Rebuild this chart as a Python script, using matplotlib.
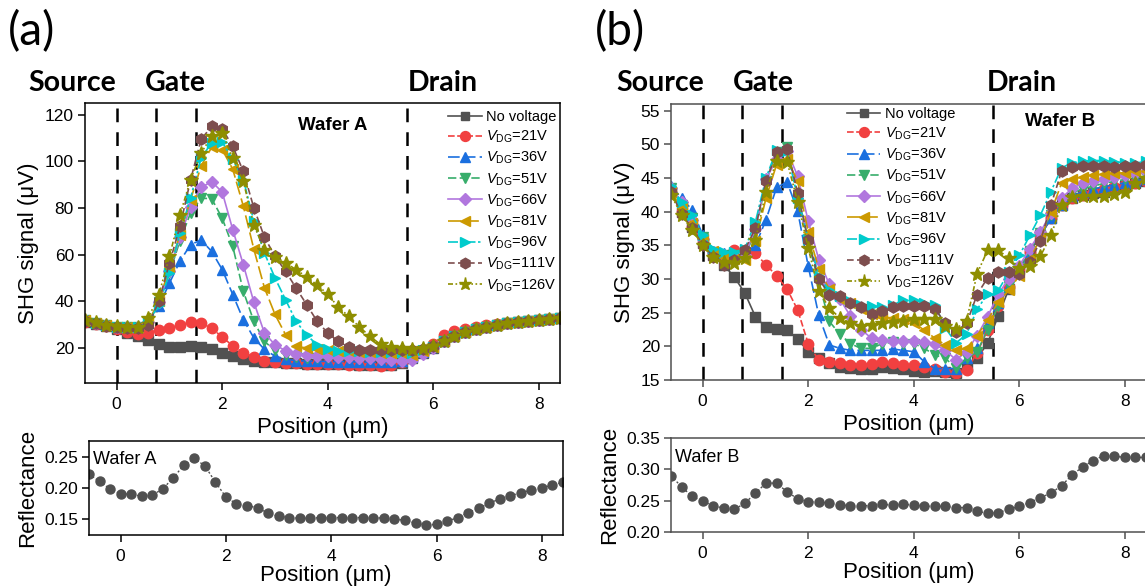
import matplotlib
matplotlib.use("Agg")
import matplotlib.pyplot as plt
from matplotlib.ticker import FormatStrFormatter

plt.rcParams['font.family'] = ['Liberation Sans', 'DejaVu Sans']
plt.rcParams['mathtext.fontset'] = 'custom'
plt.rcParams['mathtext.rm'] = 'Liberation Sans'
plt.rcParams['mathtext.it'] = 'Liberation Sans:italic'
plt.rcParams['mathtext.bf'] = 'Liberation Sans:bold'

# ---------------- data ----------------
position = [-0.6, -0.4, -0.2, 0.0, 0.2, 0.4, 0.6, 0.8, 1.0, 1.2, 1.4, 1.6, 1.8, 2.0,
            2.2, 2.4, 2.6, 2.8, 3.0, 3.2, 3.4, 3.6, 3.8, 4.0, 4.2, 4.4, 4.6, 4.8,
            5.0, 5.2, 5.4, 5.6, 5.8, 6.0, 6.2, 6.4, 6.6, 6.8, 7.0, 7.2, 7.4, 7.6,
            7.8, 8.0, 8.2, 8.4]

series_labels = ["No voltage",
                 r"$V_{\mathrm{DG}}$=21V", r"$V_{\mathrm{DG}}$=36V", r"$V_{\mathrm{DG}}$=51V",
                 r"$V_{\mathrm{DG}}$=66V", r"$V_{\mathrm{DG}}$=81V", r"$V_{\mathrm{DG}}$=96V",
                 r"$V_{\mathrm{DG}}$=111V", r"$V_{\mathrm{DG}}$=126V"]

# region boundaries (source | gate | drain)
boundaries = [0.0, 0.75, 1.5, 5.5]

# Wafer A SHG signal (uV)
a_none = [31.0, 30.2, 29.3, 28.0, 26.5, 25.0, 23.6, 21.5, 20.4, 20.4, 20.8, 20.4, 19.4, 17.9,
          16.7, 15.4, 14.6, 14.2, 14.0, 13.6, 13.4, 13.3, 13.2, 13.1, 13.0, 13.0, 12.9, 12.8,
          12.6, 12.7, 13.6, 15.8, 17.8, 20.0, 22.8, 25.0, 26.8, 28.0, 29.0, 29.8, 30.5, 31.0,
          31.5, 31.9, 32.3, 32.7]
a_21 = [31.2, 30.3, 29.4, 28.2, 26.8, 26.2, 26.6, 27.8, 28.6, 30.0, 31.0, 30.6, 28.6, 24.6,
        21.0, 17.9, 16.3, 14.5, 13.9, 13.5, 13.4, 13.3, 13.2, 13.1, 13.0, 12.9, 12.7, 12.6,
        12.4, 12.5, 13.8, 16.5, 18.6, 21.5, 25.5, 27.3, 28.2, 29.0, 29.7, 30.3, 30.8, 31.3,
        31.7, 32.1, 32.5, 32.9]
a_36 = [31.8, 30.8, 29.8, 29.2, 28.8, 28.9, 30.5, 38.0, 47.8, 57.2, 64.3, 66.3, 61.4, 53.6,
        42.9, 32.1, 24.3, 19.4, 16.5, 15.2, 14.6, 14.4, 14.3, 14.2, 14.2, 14.1, 14.0, 13.9,
        13.8, 13.9, 14.5, 16.2, 18.2, 20.4, 22.8, 25.0, 26.8, 28.0, 29.0, 29.8, 30.5, 31.0,
        31.5, 31.9, 32.3, 32.7]
a_51 = [31.8, 30.8, 29.8, 29.2, 28.8, 28.9, 31.0, 39.5, 52.0, 66.0, 77.9, 84.2, 84.0, 75.6,
        63.5, 44.3, 31.4, 22.8, 19.0, 17.2, 16.3, 15.9, 15.7, 15.6, 15.5, 15.5, 15.4, 15.3,
        15.2, 15.2, 15.4, 16.5, 18.3, 20.4, 22.8, 25.0, 26.8, 28.0, 29.0, 29.8, 30.5, 31.0,
        31.5, 31.9, 32.3, 32.7]
a_66 = [31.8, 30.8, 29.8, 29.2, 28.8, 28.9, 31.0, 39.8, 53.0, 67.5, 80.5, 88.8, 91.3, 86.8,
        70.7, 55.7, 39.6, 26.4, 21.4, 18.8, 17.6, 17.0, 16.6, 16.4, 16.2, 16.0, 15.8, 15.5,
        15.2, 14.8, 14.5, 15.0, 17.6, 20.2, 22.8, 25.0, 26.8, 28.0, 29.0, 29.8, 30.5, 31.0,
        31.5, 31.9, 32.3, 32.7]
a_81 = [31.8, 30.8, 29.8, 29.2, 28.8, 28.9, 31.2, 40.0, 54.5, 68.6, 83.5, 98.0, 106.0, 105.0,
        96.6, 80.8, 62.3, 45.8, 34.4, 25.7, 20.7, 20.0, 19.4, 19.0, 18.8, 18.6, 18.4, 18.2,
        18.0, 17.9, 17.8, 17.2, 18.5, 20.4, 22.8, 25.0, 26.8, 28.0, 29.0, 29.8, 30.5, 31.0,
        31.5, 31.9, 32.3, 32.7]
a_96 = [31.8, 30.8, 29.8, 29.2, 28.8, 28.9, 31.0, 38.6, 52.0, 69.3, 84.3, 101.4, 108.0, 108.2,
        100.8, 92.2, 74.3, 60.7, 50.0, 40.7, 31.4, 25.5, 21.4, 19.5, 18.8, 18.6, 18.5, 18.4,
        18.3, 18.3, 18.4, 18.0, 19.0, 20.6, 22.8, 25.0, 26.8, 28.0, 29.0, 29.8, 30.5, 31.0,
        31.5, 31.9, 32.3, 32.7]
a_111 = [31.5, 30.6, 29.6, 29.0, 28.6, 28.6, 30.0, 40.0, 56.4, 72.1, 92.0, 109.4, 115.0, 113.9,
         106.4, 95.7, 80.0, 67.5, 59.3, 52.9, 45.7, 38.6, 31.4, 26.4, 22.8, 20.4, 19.3, 19.0,
         19.0, 19.0, 19.3, 19.0, 19.5, 20.8, 23.0, 25.0, 26.8, 28.0, 29.0, 29.8, 30.5, 31.0,
         31.5, 31.9, 32.3, 32.7]
a_126 = [32.0, 31.0, 30.0, 29.4, 29.0, 29.2, 32.8, 42.9, 59.3, 77.1, 92.1, 103.6, 110.7, 112.2,
         101.4, 91.4, 72.7, 62.0, 59.0, 56.6, 53.5, 50.5, 47.0, 43.0, 37.5, 33.5, 29.0, 25.0,
         21.5, 20.5, 20.0, 19.5, 19.8, 20.8, 23.0, 25.0, 26.8, 28.0, 29.0, 29.8, 30.5, 31.0,
         31.5, 31.9, 32.3, 32.7]

# Wafer B SHG signal (uV)
b_none = [43.0, 40.0, 37.8, 35.4, 33.6, 32.1, 30.3, 27.9, 24.4, 22.8, 22.6, 22.4, 21.1, 19.2,
          18.2, 17.5, 17.0, 16.8, 16.6, 16.7, 16.9, 16.8, 16.6, 16.4, 16.2, 16.4, 16.2, 16.1,
          17.0, 18.2, 20.5, 24.5, 28.5, 31.5, 34.0, 36.5, 39.0, 41.0, 42.0, 42.5, 42.8, 43.0,
          43.3, 43.8, 44.2, 44.5]
b_21 = [43.0, 40.0, 37.8, 35.4, 33.8, 33.4, 34.3, 34.2, 33.8, 32.1, 30.5, 28.5, 25.4, 20.4,
        17.9, 17.6, 17.5, 17.2, 17.2, 17.4, 17.6, 17.5, 17.3, 17.2, 17.0, 16.6, 16.2, 16.0,
        16.5, 19.0, 22.5, 26.0, 28.8, 31.4, 34.0, 36.5, 39.0, 41.0, 42.0, 42.5, 43.0, 43.3,
        43.6, 44.0, 44.3, 44.6]
b_36 = [43.8, 42.0, 40.3, 36.6, 34.2, 33.8, 33.5, 33.5, 35.0, 38.8, 43.6, 44.4, 40.1, 31.9,
        24.6, 20.2, 19.7, 19.4, 19.4, 19.4, 19.4, 19.6, 19.4, 19.2, 17.7, 16.7, 16.7, 16.7,
        18.2, 19.8, 23.5, 26.5, 29.0, 31.4, 34.0, 36.5, 39.0, 41.0, 42.3, 43.0, 43.4, 43.7,
        44.0, 44.3, 44.6, 44.9]
b_51 = [43.5, 41.0, 39.0, 36.2, 34.0, 33.5, 33.5, 33.5, 37.0, 44.5, 48.8, 49.6, 42.5, 35.5,
        29.5, 23.7, 21.8, 20.4, 19.7, 19.7, 20.4, 20.6, 20.4, 20.4, 19.7, 18.7, 18.2, 16.8,
        18.2, 19.2, 22.5, 26.0, 29.0, 31.6, 34.2, 36.8, 39.5, 41.5, 42.8, 43.4, 43.8, 44.2,
        44.5, 44.8, 45.0, 45.3]
b_66 = [43.5, 41.5, 38.8, 36.0, 34.0, 33.5, 33.3, 33.5, 37.5, 44.8, 47.8, 49.0, 45.3, 38.6,
        32.9, 29.2, 27.0, 24.5, 22.5, 21.2, 21.0, 20.8, 20.8, 20.8, 20.6, 20.3, 19.4, 18.0,
        19.2, 21.6, 24.4, 27.8, 30.0, 32.0, 34.5, 37.0, 39.8, 42.0, 43.5, 44.2, 44.6, 44.9,
        45.2, 45.5, 45.7, 46.0]
b_81 = [43.0, 40.5, 38.3, 36.0, 34.2, 33.3, 33.0, 32.8, 35.6, 42.0, 47.0, 47.9, 44.5, 37.0,
        31.5, 28.5, 27.0, 26.5, 25.5, 24.8, 24.4, 24.2, 24.0, 23.5, 22.4, 21.2, 20.2, 19.4,
        19.7, 21.6, 23.9, 26.6, 28.3, 30.5, 33.0, 36.0, 40.0, 44.2, 44.8, 45.2, 45.4, 45.6,
        45.7, 45.8, 46.0, 46.1]
b_96 = [43.8, 41.5, 39.5, 36.5, 34.5, 34.0, 34.0, 34.5, 38.5, 45.0, 49.2, 49.0, 42.0, 36.0,
        30.5, 28.3, 27.5, 26.8, 26.1, 26.0, 25.8, 26.1, 26.9, 26.9, 26.5, 26.2, 22.7, 20.5,
        21.8, 25.5, 27.8, 28.3, 31.0, 33.5, 36.5, 39.5, 43.0, 46.5, 47.3, 47.5, 47.6, 47.6,
        47.4, 47.3, 47.2, 47.5]
b_111 = [43.0, 39.6, 37.6, 35.1, 33.3, 32.1, 32.8, 34.3, 37.6, 44.5, 48.8, 49.3, 42.8, 35.8,
         30.0, 27.7, 27.5, 26.5, 25.9, 24.8, 25.2, 25.9, 26.0, 26.0, 26.0, 25.5, 23.5, 22.2,
         23.4, 27.7, 30.2, 31.0, 31.0, 30.7, 32.6, 35.6, 41.0, 46.0, 46.7, 46.8, 46.8, 46.8,
         46.7, 46.8, 46.8, 47.0]
b_126 = [42.5, 39.5, 37.3, 35.0, 33.3, 32.5, 32.4, 33.1, 35.8, 43.0, 47.5, 47.4, 41.5, 34.6,
         28.2, 25.7, 24.2, 23.5, 23.0, 23.2, 23.4, 23.6, 23.8, 24.0, 24.0, 24.0, 23.0, 22.6,
         23.8, 30.8, 34.3, 34.3, 33.1, 31.6, 32.0, 33.4, 36.5, 41.0, 42.2, 42.4, 42.3, 42.4,
         42.6, 43.0, 44.3, 45.0]

# Reflectance
refl_a = [0.223, 0.211, 0.199, 0.191, 0.191, 0.187, 0.189, 0.199, 0.217, 0.237, 0.248, 0.236,
          0.210, 0.186, 0.175, 0.172, 0.169, 0.160, 0.155, 0.153, 0.152, 0.152, 0.153, 0.153,
          0.153, 0.153, 0.153, 0.153, 0.152, 0.150, 0.149, 0.144, 0.141, 0.142, 0.147, 0.153,
          0.161, 0.168, 0.176, 0.183, 0.188, 0.193, 0.197, 0.201, 0.205, 0.210]
refl_b = [0.290, 0.272, 0.257, 0.249, 0.242, 0.238, 0.236, 0.246, 0.262, 0.278, 0.278, 0.264,
          0.253, 0.248, 0.248, 0.246, 0.243, 0.242, 0.242, 0.242, 0.244, 0.243, 0.244, 0.243,
          0.241, 0.241, 0.241, 0.239, 0.239, 0.233, 0.230, 0.231, 0.236, 0.241, 0.247, 0.255,
          0.262, 0.274, 0.291, 0.304, 0.314, 0.322, 0.321, 0.319, 0.319, 0.319]

wafer_a = [a_none, a_21, a_36, a_51, a_66, a_81, a_96, a_111, a_126]
wafer_b = [b_none, b_21, b_36, b_51, b_66, b_81, b_96, b_111, b_126]

# ---------------- styles ----------------
colors = ['#515151', '#F14040', '#1A6FDF', '#37AD6B', '#B177DE',
          '#CC9900', '#00CBCC', '#7D4E4E', '#8E8E00']
markers = ['s', 'o', '^', 'v', 'D', '<', '>', 'h', '*']
msizes = [6.5, 7.5, 7.5, 7.5, 6.5, 7.5, 7.5, 8, 10]
lstyles = ['-', (0, (4, 1.5)), (0, (7, 2.5)), (0, (5, 2)), '-',
           (0, (8, 2.5)), (0, (6, 1.5, 1.5, 1.5)), (0, (4, 2)),
           (0, (3, 1.5, 1, 1.5, 1, 1.5))]

W, H = 1145, 588
fig = plt.figure(figsize=(W / 100, H / 100), dpi=100)


def box(l, t, r, b):
    return [l / W, 1 - b / H, (r - l) / W, (b - t) / H]


axA = fig.add_axes(box(85, 103, 560, 383))
axAr = fig.add_axes(box(89, 441, 563, 535))
axB = fig.add_axes(box(671, 104, 1146, 380))
axBr = fig.add_axes(box(671, 438, 1146, 532))

TICK_FS = 12.5
LABEL_FS = 16


def style_axes(ax, spine_color, xpad):
    for s in ax.spines.values():
        s.set_color(spine_color)
        s.set_linewidth(1.1)
    ax.tick_params(direction='out', length=5, width=1.1, color=spine_color,
                   labelsize=TICK_FS, pad=3)
    ax.tick_params(axis='x', pad=5)
    ax.set_xlim(-0.6, 8.4)
    ax.set_xticks([0, 2, 4, 6, 8])
    ax.set_xlabel("Position (μm)", fontsize=LABEL_FS, labelpad=xpad)


def draw_shg(ax, data):
    for xb in boundaries:
        ax.axvline(xb, color='black', lw=1.8, dashes=(5.5, 4.0), zorder=1.5)
    handles = []
    for vals, lab, c, m, ms, ls in zip(data, series_labels, colors, markers, msizes, lstyles):
        h, = ax.plot(position, vals, color=c, marker=m, markersize=ms, linestyle=ls,
                     lw=1.2, label=lab, zorder=2, clip_on=True)
        handles.append(h)
    return handles


def draw_refl(ax, vals):
    ax.plot(position, vals, color='#505050', marker='o', markersize=6.5,
            linestyle=(0, (1.5, 1.5)), lw=1.0)


LEG = dict(loc='upper left', frameon=False, fontsize=10.5, handlelength=2.3,
           handletextpad=0.3, labelspacing=0.33, borderpad=0, borderaxespad=0,
           markerscale=0.95)

# Wafer A, SHG
style_axes(axA, 'black', 4)
hA = draw_shg(axA, wafer_a)
axA.set_ylim(5, 125)
axA.set_yticks([20, 40, 60, 80, 100, 120])
axA.set_ylabel("SHG signal (μV)", fontsize=LABEL_FS, labelpad=4)
axA.legend(handles=hA, bbox_to_anchor=(0.765, 0.975), **LEG)

# Wafer B, SHG
style_axes(axB, '#505050', 4)
hB = draw_shg(axB, wafer_b)
axB.set_ylim(15, 56)
axB.set_yticks([15, 20, 25, 30, 35, 40, 45, 50, 55])
axB.set_ylabel("SHG signal (μV)", fontsize=LABEL_FS, labelpad=4)
axB.legend(handles=hB, bbox_to_anchor=(0.37, 0.99), **LEG)

# Reflectance panels
style_axes(axAr, 'black', 1)
draw_refl(axAr, refl_a)
axAr.set_ylim(0.125, 0.276)
axAr.set_yticks([0.15, 0.20, 0.25])
axAr.yaxis.set_major_formatter(FormatStrFormatter('%.2f'))
axAr.set_ylabel("Reflectance", fontsize=LABEL_FS, labelpad=4)

style_axes(axBr, '#505050', 1)
draw_refl(axBr, refl_b)
axBr.set_ylim(0.20, 0.35)
axBr.set_yticks([0.20, 0.25, 0.30, 0.35])
axBr.yaxis.set_major_formatter(FormatStrFormatter('%.2f'))
axBr.set_ylabel("Reflectance", fontsize=LABEL_FS, labelpad=4)


def ftext(x, y, s, **kw):
    fig.text(x / W, 1 - y / H, s, **kw)


HEAD = dict(family=['Lato', 'DejaVu Sans'], fontweight='bold', fontsize=20.5, va='baseline')
PANEL = dict(family=['Lato', 'DejaVu Sans'], fontsize=33, va='center')

ftext(8, 32, "(a)", **PANEL)
ftext(28, 91, "Source", **HEAD)
ftext(145, 91, "Gate", **HEAD)
ftext(408, 91, "Drain", **HEAD)

ftext(595, 32, "(b)", **PANEL)
ftext(616, 91, "Source", **HEAD)
ftext(733, 91, "Gate", **HEAD)
ftext(987, 91, "Drain", **HEAD)

ftext(298, 125, "Wafer A", fontsize=13.5, fontweight='bold', va='center')
ftext(1025, 122, "Wafer B", fontsize=13.5, fontweight='bold', va='center')
ftext(93, 463.5, "Wafer A", fontsize=13, va='baseline')
ftext(675, 462.5, "Wafer B", fontsize=13, va='baseline')

fig.savefig("out.png", dpi=100)
